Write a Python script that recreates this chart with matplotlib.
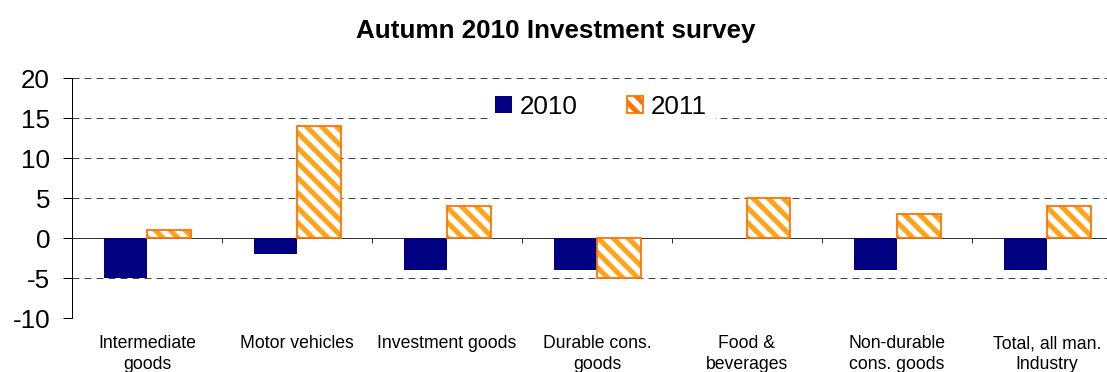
import matplotlib
matplotlib.use("Agg")
import matplotlib.pyplot as plt
from matplotlib.patches import Patch
import numpy as np

categories = ["Intermediate\ngoods", "Motor vehicles", "Investment goods",
              "Durable cons.\ngoods", "Food &\nbeverages", "Non-durable\ncons. goods",
              "Total, all man.\nIndustry"]
values_2010 = [-5, -2, -4, -4, 0, -4, -4]
values_2011 = [1, 14, 4, -5, 5, 3, 4]
series_labels = ["2010", "2011"]
y_ticks = [-10, -5, 0, 5, 10, 15, 20]

DPI = 90
W, H = 1107, 372


def px(v):
    """Convert a size in pixels to points at the figure dpi."""
    return v * 72 / DPI


plt.rcParams["font.family"] = ["Liberation Sans", "DejaVu Sans"]
plt.rcParams["axes.unicode_minus"] = False
plt.rcParams["hatch.linewidth"] = px(5)

fig = plt.figure(figsize=(W / DPI, H / DPI), dpi=DPI)
ax = fig.add_axes([72 / W, 54 / H, 1035 / W, 240 / H])

navy = "#000080"
stripe = "#FFA31A"
outline = "#FF7300"
x = np.arange(len(categories))
w = 0.29

ax.bar(x - w / 2, values_2010, w, color=navy, linewidth=0, zorder=3)
ax.bar(x + w / 2, values_2011, w, color="white", edgecolor=stripe,
       hatch="\\\\", linewidth=0, zorder=3)
ax.bar(x + w / 2, values_2011, w, fill=False, edgecolor=outline,
       linewidth=px(1.8), zorder=4)

ax.set_xlim(-0.5, -0.5 + 1035 / 150)
ax.set_ylim(-10, 20)
ax.set_yticks(y_ticks)
ax.set_yticklabels([str(v) for v in y_ticks], fontsize=px(26))
ax.tick_params(axis="y", length=px(9), width=px(1), pad=px(13), color="black")

ax.set_xticks(x)
ax.set_xticklabels(categories, fontsize=px(17.6), linespacing=1.28)
ax.tick_params(axis="x", length=0, pad=px(17))

for s in ["top", "right", "bottom"]:
    ax.spines[s].set_visible(False)
ax.spines["left"].set_color("black")
ax.spines["left"].set_linewidth(px(1))

# dashed horizontal gridlines
for v in y_ticks:
    if v != 0:
        ax.axhline(v, color="#444444", linestyle=(0, (7, 5)), linewidth=px(1), zorder=1)

# zero line with category boundary ticks
zero_ax = ax.secondary_xaxis(1 / 3)
zero_ax.spines["bottom"].set_color("#333333")
zero_ax.spines["bottom"].set_linewidth(px(1))
zero_ax.set_xticks(np.arange(len(categories) + 1) - 0.5)
zero_ax.set_xticklabels([])
zero_ax.tick_params(axis="x", length=px(5), width=px(1), direction="out", color="#333333")

handles = [
    Patch(facecolor=navy, linewidth=0),
    Patch(facecolor="white", edgecolor=outline, hatch="\\\\", linewidth=px(1.8)),
]
leg = ax.legend(handles, series_labels,
                loc="center", bbox_to_anchor=((601 - 72) / 1035, (318 - 107) / 240),
                ncol=2, fontsize=px(26), frameon=True, fancybox=False, framealpha=1,
                edgecolor="white", handlelength=0.62, handleheight=0.62,
                handletextpad=0.3, columnspacing=1.9, borderpad=0.3)
leg.set_zorder(5)

fig.suptitle("Autumn 2010 Investment survey", fontsize=px(26), fontweight="bold",
             y=1 - 19 / H, va="top", x=556 / W)

fig.savefig("out.png", dpi=DPI)
